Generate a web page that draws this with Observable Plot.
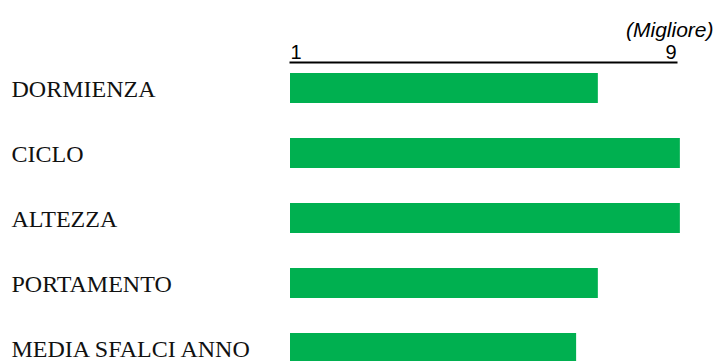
<!DOCTYPE html>
<html>
<head>
<meta charset="utf-8">
<script src="https://cdn.jsdelivr.net/npm/d3@7"></script>
<script src="https://cdn.jsdelivr.net/npm/@observablehq/plot@0.6"></script>
<style>
  html, body { margin: 0; padding: 0; background: #fff; }
  svg { display: block; }
</style>
</head>
<body>
<div id="chart"></div>
<script>
const categories = ["DORMIENZA", "CICLO", "ALTEZZA", "PORTAMENTO", "MEDIA SFALCI ANNO"];
const scores = [7.38, 9.08, 9.08, 7.38, 6.93];
const scaleMin = 1;
const scaleMax = 9;
const bestLabel = "(Migliore)";

const data = categories.map((c, i) => ({category: c, score: scores[i]}));

const chart = Plot.plot({
  width: 715,
  height: 361,
  marginTop: 62,
  marginLeft: 290,
  marginRight: 39,
  marginBottom: 0,
  style: {background: "#fff"},
  x: {domain: [scaleMin, scaleMax], axis: null},
  y: {domain: categories, range: [72, 364.5], paddingInner: 0.535, paddingOuter: 0, axis: null},
  marks: [
    Plot.barX(data, {x1: scaleMin, x2: "score", y: "category", fill: "#00B050"}),
    Plot.axisY({
      label: null, tickSize: 0, textAnchor: "start", dx: -270, dy: 1,
      fontFamily: "Liberation Serif", fontSize: 24, fill: "#111"
    }),
    Plot.frame({anchor: "top", stroke: "#000", strokeWidth: 2}),
    Plot.text([scaleMin], {x: d => d, frameAnchor: "top", textAnchor: "start", lineAnchor: "bottom", dy: -4,
      fontFamily: "Liberation Sans", fontSize: 20, fill: "#000"}),
    Plot.text([scaleMax], {x: d => d, frameAnchor: "top", textAnchor: "end", lineAnchor: "bottom", dy: -4,
      fontFamily: "Liberation Sans", fontSize: 20, fill: "#000"}),
    Plot.text([bestLabel], {frameAnchor: "top-right", textAnchor: "end", lineAnchor: "bottom", dx: 37, dy: -26,
      fontFamily: "Liberation Sans", fontStyle: "italic", fontSize: 21, fill: "#000"})
  ]
});
document.getElementById("chart").appendChild(chart);
</script>
</body>
</html>
